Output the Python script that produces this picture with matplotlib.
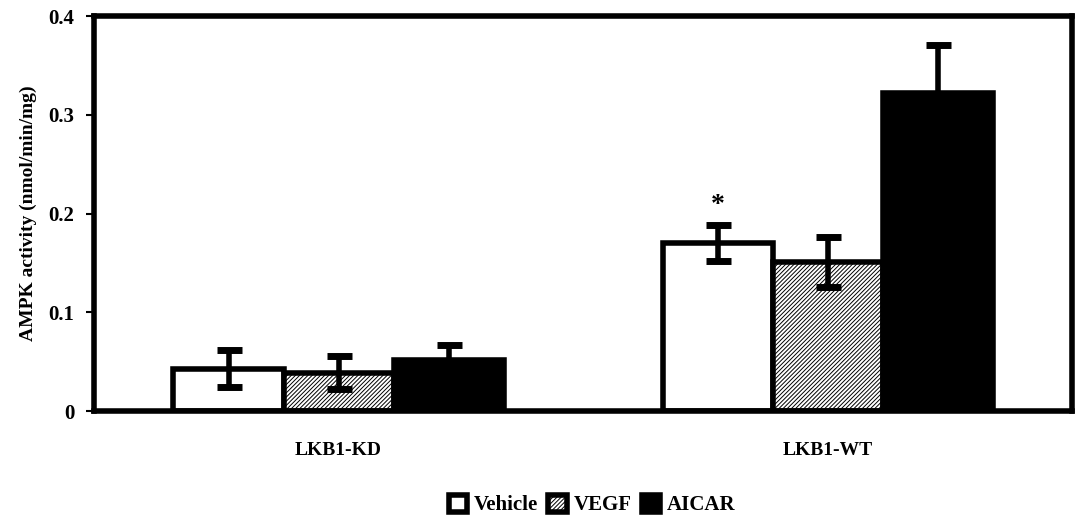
import matplotlib.pyplot as plt
import numpy as np

plt.rcParams['font.family'] = 'Liberation Serif'
plt.rcParams['font.weight'] = 'bold'
plt.rcParams['axes.labelweight'] = 'bold'
plt.rcParams['hatch.color'] = '#666666'
plt.rcParams['hatch.linewidth'] = 0.7

groups = ['LKB1-KD', 'LKB1-WT']
treatments = ['Vehicle', 'VEGF', 'AICAR']
vehicle = [0.043, 0.170]
vegf = [0.039, 0.151]
aicar = [0.052, 0.322]
vehicle_err = [0.019, 0.018]
vegf_err = [0.017, 0.025]
aicar_err = [0.015, 0.049]

fig = plt.figure(figsize=(10.8, 5.22), dpi=100)
ax = fig.add_axes([0.087, 0.2126, 0.906, 0.7564])

x = np.arange(len(groups))
w = 0.225
styles = [
    dict(color='white', hatch=None),
    dict(color='white', hatch='////////'),
    dict(color='black', hatch=None),
]
data = [(vehicle, vehicle_err), (vegf, vegf_err), (aicar, aicar_err)]
for i, ((vals, errs), st) in enumerate(zip(data, styles)):
    pos = x + (i - 1) * w
    ax.bar(pos, vals, width=w, color=st['color'], hatch=st['hatch'],
           edgecolor='black', linewidth=4, label=treatments[i], zorder=2)
    ax.errorbar(pos, vals, yerr=errs, fmt='none', ecolor='black',
                elinewidth=4, capsize=9, capthick=5, zorder=3)

# significance mark above WT vehicle
ax.text(x[1] - w, vehicle[1] + vehicle_err[1] + 0.008, '*', ha='center',
        va='bottom', fontsize=20, fontweight='bold')

ax.set_xlim(-0.5, 1.5)
ax.set_ylim(0, 0.4)
ax.set_yticks([0, 0.1, 0.2, 0.3, 0.4])
ax.set_yticklabels(['0', '0.1', '0.2', '0.3', '0.4'], fontsize=15)
ax.set_xticks(x)
ax.set_xticklabels(groups, fontsize=14)
ax.tick_params(axis='x', length=0, pad=22)
ax.tick_params(axis='y', length=6, width=1.5, pad=8)
for s in ax.spines.values():
    s.set_linewidth(4)
ax.set_ylabel('AMPK activity (nmol/min/mg)', fontsize=14, labelpad=8)

ax.legend(loc='upper center', bbox_to_anchor=(0.509, -0.18), ncol=3,
          frameon=False, fontsize=15, handlelength=0.9, handleheight=0.9,
          handletextpad=0.3, columnspacing=0.5, borderaxespad=0.2)

plt.savefig('out.png', dpi=100)
